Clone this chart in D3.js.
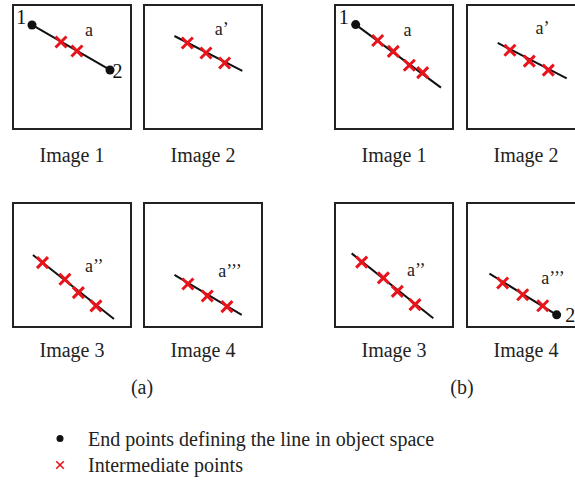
<!DOCTYPE html>
<html>
<head>
<meta charset="utf-8">
<script src="https://cdn.jsdelivr.net/npm/d3@7"></script>
<style>
  html, body { margin: 0; padding: 0; background: #fff; }
  svg { display: block; }
</style>
</head>
<body>
<svg id="chart" width="575" height="486"></svg>
<script>
// ---- data (coordinates in each image frame, 0..100) ----
const panelLabels = ["(a)", "(b)"];
const imageNames = ["Image 1", "Image 2", "Image 3", "Image 4"];

// line segments per image: [panel, image, x1, y1, x2, y2]
const segments = [
  [0, 0, 16.1, 16.1, 82.2, 52.4],
  [0, 1, 25.8, 25.0, 83.3, 53.2],
  [0, 2, 16.9, 41.9, 85.6, 93.5],
  [0, 3, 25.8, 58.0, 82.8, 90.3],
  [1, 0, 17.5, 15.8, 89.8, 66.6],
  [1, 1, 26.0, 30.6, 84.5, 59.2],
  [1, 2, 14.1, 40.6, 83.3, 93.0],
  [1, 3, 19.0, 56.9, 76.0, 90.2]
];

// end points (black dots): [panel, image, x, y, label, labelX, labelY]
const endPoints = [
  [0, 0, 16.1, 16.1, "1", 7.0, 15.0],
  [0, 0, 82.2, 52.4, "2", 88.5, 59.0],
  [1, 0, 17.5, 15.8, "1", 7.5, 15.0],
  [1, 3, 76.0, 90.2, "2", 87.5, 96.0]
];

// intermediate points (red crosses): [panel, image, x, y]
const crossPoints = [
  [0, 0, 40.7, 29.8], [0, 0, 54.2, 37.1],
  [0, 1, 36.7, 30.6], [0, 1, 52.5, 38.7], [0, 1, 68.3, 46.8],
  [0, 2, 25.0, 48.1], [0, 2, 44.0, 61.5], [0, 2, 55.4, 72.3], [0, 2, 70.3, 83.0],
  [0, 3, 37.2, 65.3], [0, 3, 53.6, 75.0], [0, 3, 70.3, 83.6],
  [1, 0, 36.2, 28.6], [1, 0, 49.4, 37.4], [1, 0, 63.0, 48.6], [1, 0, 74.3, 54.5],
  [1, 1, 36.4, 36.5], [1, 1, 52.8, 45.3], [1, 1, 68.9, 52.5],
  [1, 2, 22.6, 47.7], [1, 2, 41.0, 60.4], [1, 2, 52.8, 71.3], [1, 2, 67.8, 82.0],
  [1, 3, 30.2, 64.5], [1, 3, 47.2, 74.0], [1, 3, 64.2, 82.9]
];

// line names: [panel, image, text, x, y]
const lineNames = [
  [0, 0, "a", 61, 25], [0, 1, "a\u2019", 60, 24], [0, 2, "a\u2019\u2019", 61, 56], [0, 3, "a\u2019\u2019\u2019", 63, 60],
  [1, 0, "a", 58, 25], [1, 1, "a\u2019", 58, 23], [1, 2, "a\u2019\u2019", 61, 59], [1, 3, "a\u2019\u2019\u2019", 63, 65]
];

const legendItems = ["End points defining the line in object space", "Intermediate points"];

// ---- layout ----
const svg = d3.select("#chart");
const RED = "#e8141c";
const FONT = "'Liberation Serif', 'Times New Roman', serif";
const colLeft = [[13, 144], [335, 467]];
const rowTop = [5, 203];
const boxW = 118, boxH = 124;
const labelBase = [162, 357];

function frame(p, i) {
  const x0 = colLeft[p][i % 2], y0 = rowTop[Math.floor(i / 2)];
  return {
    x: d3.scaleLinear().domain([0, 100]).range([x0, x0 + boxW]),
    y: d3.scaleLinear().domain([0, 100]).range([y0, y0 + boxH]),
    x0, y0
  };
}

function drawCross(cx, cy, h, w) {
  const g = svg.append("g").attr("transform", `translate(${cx},${cy})`);
  g.append("line").attr("x1", -h).attr("y1", -h).attr("x2", h).attr("y2", h)
    .attr("stroke", RED).attr("stroke-width", w);
  g.append("line").attr("x1", -h).attr("y1", h).attr("x2", h).attr("y2", -h)
    .attr("stroke", RED).attr("stroke-width", w);
}

// boxes and labels
[0, 1].forEach(p => {
  imageNames.forEach((name, i) => {
    const f = frame(p, i);
    svg.append("rect")
      .attr("x", f.x0).attr("y", f.y0)
      .attr("width", boxW).attr("height", boxH)
      .attr("fill", "none").attr("stroke", "#222").attr("stroke-width", 2);
    svg.append("text")
      .attr("x", f.x(50)).attr("y", labelBase[Math.floor(i / 2)])
      .attr("text-anchor", "middle")
      .attr("font-family", FONT).attr("font-size", 20).attr("fill", "#222")
      .text(name);
  });
});

const panelX = [142, 462];
panelLabels.forEach((t, p) => {
  svg.append("text").attr("x", panelX[p]).attr("y", 394)
    .attr("text-anchor", "middle").attr("font-family", FONT)
    .attr("font-size", 20).attr("fill", "#222").text(t);
});

// lines
segments.forEach(([p, i, x1, y1, x2, y2]) => {
  const f = frame(p, i);
  svg.append("line")
    .attr("x1", f.x(x1)).attr("y1", f.y(y1))
    .attr("x2", f.x(x2)).attr("y2", f.y(y2))
    .attr("stroke", "#111").attr("stroke-width", 2);
});

// crosses
crossPoints.forEach(([p, i, x, y]) => {
  const f = frame(p, i);
  drawCross(f.x(x), f.y(y), 5.5, 3);
});

// end points
endPoints.forEach(([p, i, x, y, lab, lx, ly]) => {
  const f = frame(p, i);
  svg.append("circle").attr("cx", f.x(x)).attr("cy", f.y(y)).attr("r", 4.5).attr("fill", "#111");
  svg.append("text").attr("x", f.x(lx)).attr("y", f.y(ly))
    .attr("text-anchor", "middle").attr("font-family", FONT)
    .attr("font-size", 20).attr("fill", "#111").text(lab);
});

// line names
lineNames.forEach(([p, i, t, x, y]) => {
  const f = frame(p, i);
  svg.append("text").attr("x", f.x(x)).attr("y", f.y(y))
    .attr("font-family", FONT).attr("font-size", 18).attr("fill", "#222").text(t);
});

// legend
const legY = d3.scaleBand().domain(legendItems).range([426, 478]);
legendItems.forEach((t, k) => {
  const cy = legY(t) + legY.bandwidth() / 2;
  if (k === 0) {
    svg.append("circle").attr("cx", 60).attr("cy", cy - 0.5).attr("r", 3.5).attr("fill", "#111");
  } else {
    drawCross(60, cy, 3.8, 1.6);
  }
  svg.append("text").attr("x", 88).attr("y", cy + 6.5)
    .attr("font-family", FONT).attr("font-size", 20).attr("fill", "#222").text(t);
});
</script>
</body>
</html>
